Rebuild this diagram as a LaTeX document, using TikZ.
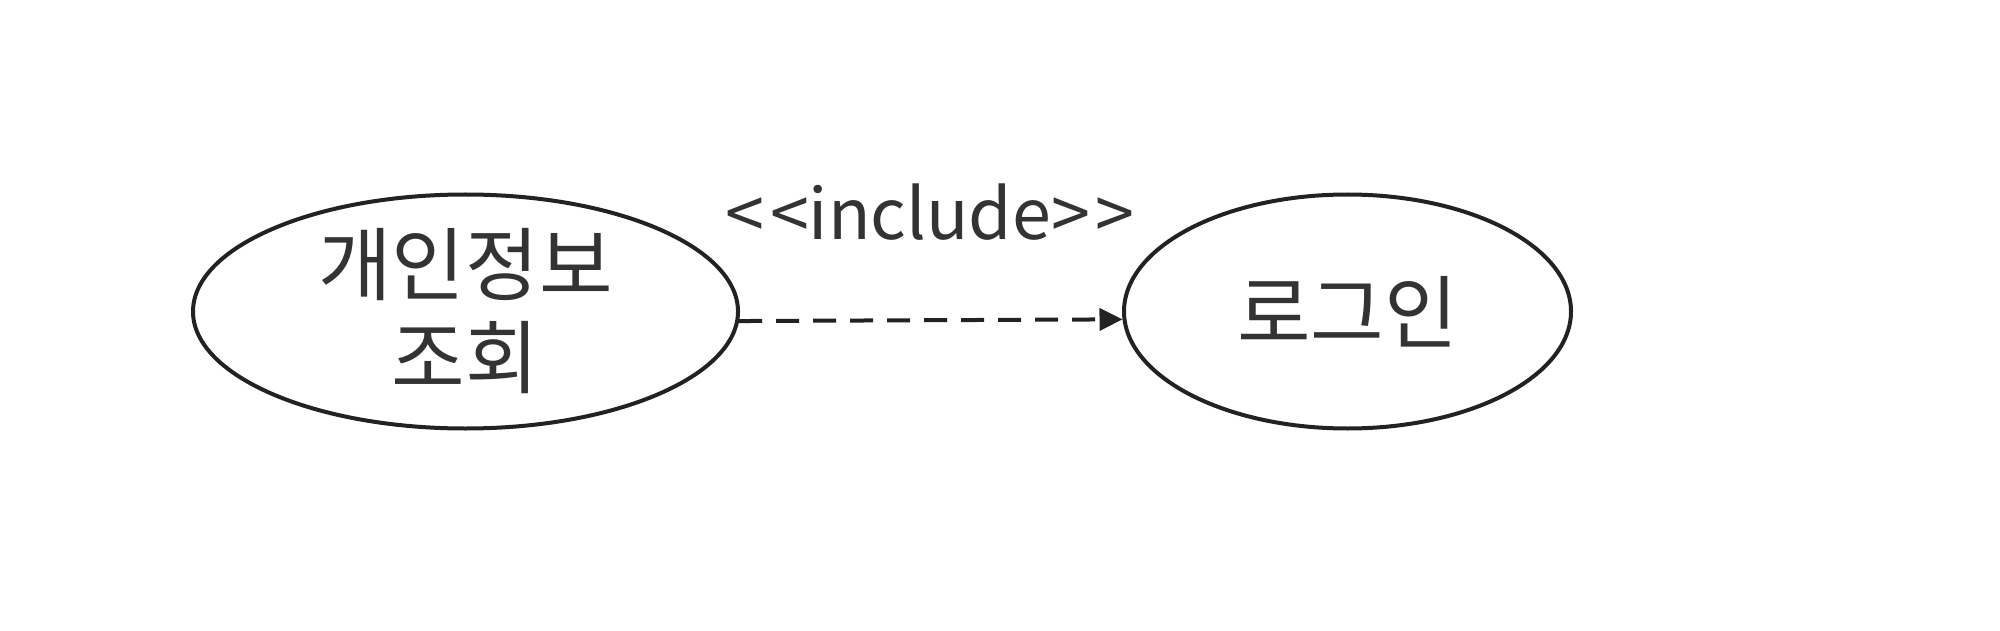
\documentclass[tikz,border=0pt]{standalone}
\usepackage{fontspec}
\setmainfont{Noto Sans CJK KR}
\usetikzlibrary{shapes.geometric,arrows.meta}
\definecolor{strokec}{HTML}{222222}
\definecolor{textc}{HTML}{333333}
\tikzset{
  usecase/.style={ellipse, draw=strokec, line width=4pt, inner sep=0pt, align=center,
    text=textc, font=\fontsize{80pt}{93pt}\selectfont},
  incl/.style={draw=strokec, line width=4pt, dash pattern=on 23pt off 14pt,
    -{Triangle[length=23pt,width=22pt]}},
  lbltext/.style={text=textc, font=\fontsize{70pt}{84pt}\selectfont, inner sep=0pt}
}
\begin{document}
\begin{tikzpicture}[x=1pt,y=-1pt]
\useasboundingbox (0,0) rectangle (2000,631);
\node[usecase, minimum width=545pt, minimum height=234pt] (A) at (465.5,311.5) {개인정보\\조회};
\node[usecase, minimum width=447pt, minimum height=234pt] (B) at (1347.5,311.5) {로그인};
\node[lbltext, anchor=base] (lbl) at (930,240) {<\kern6pt<include>\kern6pt>};
\draw[incl] (A.-2.3) -- (B.182.8);
\end{tikzpicture}
\end{document}
